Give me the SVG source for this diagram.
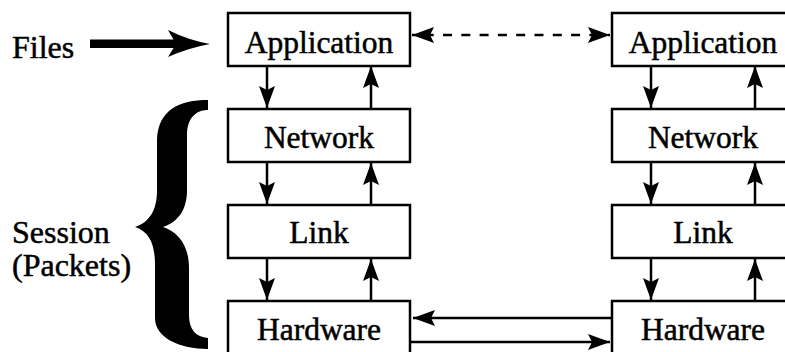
<svg xmlns="http://www.w3.org/2000/svg" width="785" height="352" viewBox="0 0 785 352">
<defs>
<style>
.box{fill:#fff;stroke:#000;stroke-width:2.5}
.ln{stroke:#000;stroke-width:2.5;fill:none}
.t{font-family:"Liberation Serif","Times New Roman",serif;fill:#000;stroke:#000;stroke-width:0.5}
.lbl{font-size:31.5px;text-anchor:middle}
.side{font-size:32px}
</style>
<marker id="ah" viewBox="-22 -9 22 18" refX="0" refY="0" markerWidth="22" markerHeight="18" markerUnits="userSpaceOnUse" orient="auto-start-reverse">
<path d="M0,0 L-22,-8 L-18,0 L-22,8 Z" fill="#000"/>
</marker>
</defs>
<rect width="785" height="352" fill="#fff"/>

<g id="files">
<text class="t side" x="12" y="58">Files</text>
<rect x="90" y="39.5" width="88" height="8.5" fill="#000"/>
<path d="M168,30 Q188,40 210,44 Q188,48 168,57 L176,44 Z" fill="#000"/>
</g>

<g id="session">
<text class="t side" x="12" y="243">Session</text>
<text class="t side" x="12" y="276">(Packets)</text>
<path d="M208,100 C179,100 158,110 157,140 L157,190 C157,210 150,222 135,227 C150,232 155,245 155,265 L155,318 C155,338 180,349 208,349 L208,338 C196,337 189,330 189,315 L189,268 C189,245 178,232 163,227 C178,222 187,210 187,190 L187,135 C187,118 196,110 208,110 Z" fill="#000"/>
</g>

<g id="connectors">
<line class="ln" x1="267" y1="65" x2="267" y2="108" marker-end="url(#ah)"/>
<line class="ln" x1="371" y1="109" x2="371" y2="66" marker-end="url(#ah)"/>
<line class="ln" x1="267" y1="162" x2="267" y2="204" marker-end="url(#ah)"/>
<line class="ln" x1="371" y1="205" x2="371" y2="163" marker-end="url(#ah)"/>
<line class="ln" x1="267" y1="258" x2="267" y2="300" marker-end="url(#ah)"/>
<line class="ln" x1="371" y1="301" x2="371" y2="259" marker-end="url(#ah)"/>
<line class="ln" x1="651" y1="65" x2="651" y2="108" marker-end="url(#ah)"/>
<line class="ln" x1="755" y1="109" x2="755" y2="66" marker-end="url(#ah)"/>
<line class="ln" x1="651" y1="162" x2="651" y2="204" marker-end="url(#ah)"/>
<line class="ln" x1="755" y1="205" x2="755" y2="163" marker-end="url(#ah)"/>
<line class="ln" x1="651" y1="258" x2="651" y2="300" marker-end="url(#ah)"/>
<line class="ln" x1="755" y1="301" x2="755" y2="259" marker-end="url(#ah)"/>
<line class="ln" x1="412" y1="35" x2="610" y2="35" stroke-dasharray="9 9.3" stroke-dashoffset="5.6" marker-start="url(#ah)" marker-end="url(#ah)"/>
<line class="ln" x1="616" y1="318" x2="413" y2="318" marker-end="url(#ah)"/>
<line class="ln" x1="411" y1="342" x2="610" y2="342" marker-end="url(#ah)"/>
</g>

<g id="app-left"><rect class="box" x="228" y="13" width="182" height="53"/><text class="t lbl" x="319" y="53">Application</text></g>
<g id="net-left"><rect class="box" x="228" y="109" width="182" height="53"/><text class="t lbl" x="319" y="148">Network</text></g>
<g id="link-left"><rect class="box" x="228" y="205" width="182" height="53"/><text class="t lbl" x="319" y="243">Link</text></g>
<g id="hw-left"><rect class="box" x="228" y="301" width="182" height="60"/><text class="t lbl" x="319" y="340">Hardware</text></g>
<g id="app-right"><rect class="box" x="612" y="13" width="182" height="53"/><text class="t lbl" x="703" y="53">Application</text></g>
<g id="net-right"><rect class="box" x="612" y="109" width="182" height="53"/><text class="t lbl" x="703" y="148">Network</text></g>
<g id="link-right"><rect class="box" x="612" y="205" width="182" height="53"/><text class="t lbl" x="703" y="243">Link</text></g>
<g id="hw-right"><rect class="box" x="612" y="301" width="182" height="60"/><text class="t lbl" x="703" y="340">Hardware</text></g>
</svg>
